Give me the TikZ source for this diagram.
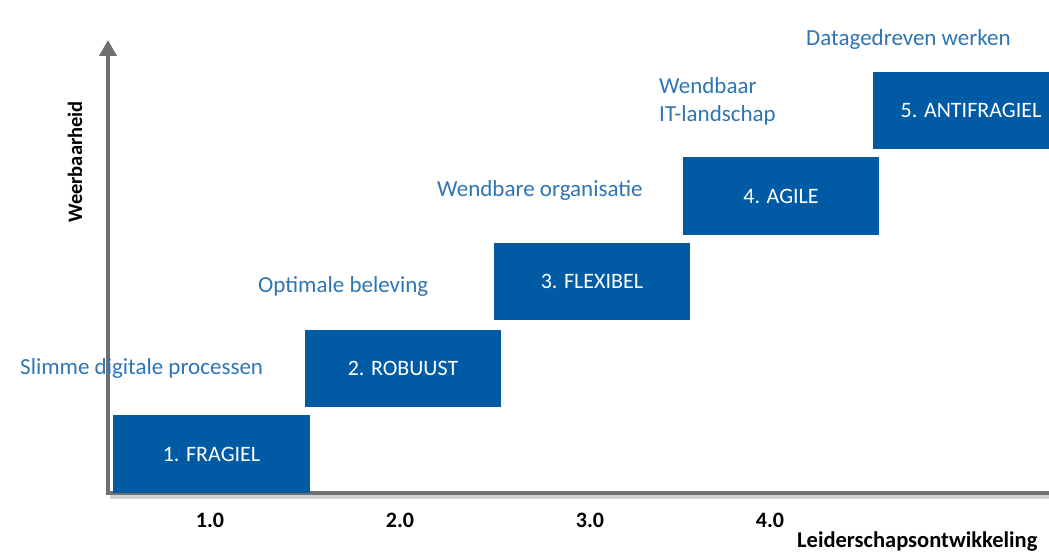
\documentclass[tikz,border=0pt]{standalone}
\usepackage{fontspec}
\setmainfont{Carlito}
\usetikzlibrary{arrows.meta}
\definecolor{boxblue}{RGB}{0,91,164}
\definecolor{lblblue}{RGB}{46,117,182}
\definecolor{axisgray}{RGB}{112,112,112}
\tikzset{
  stagetext/.style={text=white, font=\fontsize{22}{26}\selectfont, inner sep=0pt},
  lbl/.style={text=lblblue, font=\fontsize{23}{28}\selectfont, inner sep=0pt},
  tick/.style={font=\bfseries\fontsize{22}{24}\selectfont, inner sep=0pt},
  axis/.style={draw=axisgray, line width=4pt},
  axshadow/.style={draw=black!18, line width=5pt}
}
\begin{document}
\begin{tikzpicture}[x=1pt,y=-1pt]
\useasboundingbox (0,0) rectangle (1049,553);
% axes
\coordinate (O) at (108,493);
\coordinate (Ytop) at (108,40);
\coordinate (Xend) at (1049,493);
\draw[axshadow] ([xshift=2pt,yshift=-3pt]O) -- ([xshift=2pt,yshift=-3pt]Xend);
\draw[axis, -{Triangle[length=16pt,width=17pt]}] (O) -- (Ytop);
\draw[axis] ([xshift=-2pt]O) -- (Xend);
% boxes
\fill[boxblue] (113,415) rectangle (310,493);
\node[stagetext] (t1) at (211.5,454) {1. FRAGIEL};
\fill[boxblue] (305,330) rectangle (501,407);
\node[stagetext] (t2) at (403,368.5) {2. ROBUUST};
\fill[boxblue] (494,243) rectangle (690,320);
\node[stagetext] (t3) at (592,281.5) {3. FLEXIBEL};
\fill[boxblue] (683,157) rectangle (879,235);
\node[stagetext] (t4) at (781,196) {4. AGILE};
\fill[boxblue] (873,72) rectangle (1049,149);
\node[stagetext] (t5) at (971,110.5) {5. ANTIFRAGIEL};
% labels
\node[lbl, anchor=west] (l1) at (20,368) {Slimme digitale processen};
\node[lbl, anchor=west] (l2) at (258,286) {Optimale beleving};
\node[lbl, anchor=west] (l3) at (437,190) {Wendbare organisatie};
\node[lbl, anchor=west, align=left] (l4) at (659,101) {Wendbaar\\IT-landschap};
\node[lbl, anchor=west] (l5) at (806,39) {Datagedreven werken};
% axis labels
\node[font=\bfseries\fontsize{20.5}{22}\selectfont, rotate=90, inner sep=0pt] (ylab) at (75,162) {Weerbaarheid};
\node[tick] (x1) at (210,520) {1.0};
\node[tick] (x2) at (400,520) {2.0};
\node[tick] (x3) at (590,520) {3.0};
\node[tick] (x4) at (770,520) {4.0};
\node[font=\bfseries\fontsize{22.5}{24}\selectfont, anchor=west, inner sep=0pt] (xlab) at (797,542) {Leiderschapsontwikkeling};
\end{tikzpicture}
\end{document}
